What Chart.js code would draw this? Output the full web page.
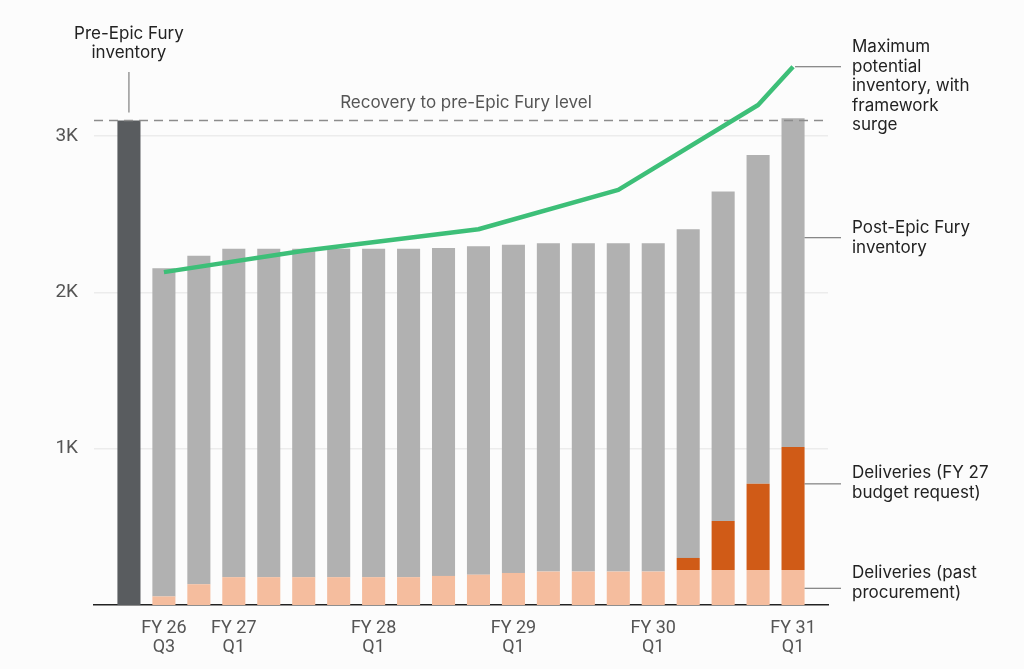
<!DOCTYPE html>
<html>
<head>
<meta charset="utf-8">
<script src="https://cdn.jsdelivr.net/npm/chart.js@4/dist/chart.umd.min.js"></script>
<style>
  body { margin: 0; background: #fcfcfc; }
  #wrap { width: 1024px; height: 669px; position: relative; }
</style>
</head>
<body>
<div id="wrap"><canvas id="inventoryChart"></canvas></div>
<script>
// quarters, first bar is the pre-Epic Fury stockpile
const categories = ["Pre-Epic Fury", "FY 26 Q3", "FY 26 Q4", "FY 27 Q1", "FY 27 Q2", "FY 27 Q3", "FY 27 Q4",
  "FY 28 Q1", "FY 28 Q2", "FY 28 Q3", "FY 28 Q4", "FY 29 Q1", "FY 29 Q2", "FY 29 Q3", "FY 29 Q4",
  "FY 30 Q1", "FY 30 Q2", "FY 30 Q3", "FY 30 Q4", "FY 31 Q1"];
const tickLabels = ["", ["FY 26", "Q3"], "", ["FY 27", "Q1"], "", "", "", ["FY 28", "Q1"], "", "", "",
  ["FY 29", "Q1"], "", "", "", ["FY 30", "Q1"], "", "", "", ["FY 31", "Q1"]];

const preEpicInventory = [3100, null, null, null, null, null, null, null, null, null, null, null, null, null, null, null, null, null, null, null];
const postEpicInventory = [null, 2155, 2235, 2280, 2280, 2280, 2280, 2280, 2280, 2285, 2295, 2305, 2315, 2315, 2315, 2315, 2405, 2645, 2880, 3115];
const pastDeliveries = [null, 55, 133, 178, 178, 178, 178, 178, 178, 186, 194, 205, 214, 214, 214, 214, 224, 224, 224, 224];
const budgetDeliveries = [null, null, null, null, null, null, null, null, null, null, null, null, null, null, null, null, 77, 314, 552, 787];
const maxPotential = [null, 2130, null, null, null, 2267, null, null, null, null, 2404, null, null, null, 2656, null, null, null, 3199, 3444];
const recoveryLevel = 3100;
const yTicks = [1000, 2000, 3000];

// one empty slot either side so the axis runs past the outer bars
const pad = arr => [null, ...arr, null];
const greyPart = postEpicInventory.map((v, i) => v == null ? null : v - (pastDeliveries[i] || 0) - (budgetDeliveries[i] || 0));

const FONT = "Inter, 'Noto Sans', sans-serif";

const notes = {
  id: "notes",
  beforeDatasetDraw(chart, args) {
    if (args.meta.type !== "line") return;
    const { ctx, chartArea: a, scales: { y } } = chart;
    const yy = y.getPixelForValue(recoveryLevel);
    ctx.save();
    ctx.strokeStyle = "#8c8c8c";
    ctx.lineWidth = 1.5;
    ctx.setLineDash([9, 6]);
    ctx.beginPath();
    ctx.moveTo(a.left, yy);
    ctx.lineTo(a.right - 4, yy);
    ctx.stroke();
    ctx.restore();
  },
  afterDraw(chart) {
    const { ctx, scales: { x, y } } = chart;
    const last = categories.length; // padded index of last bar
    const lastX = x.getPixelForValue(last);
    const barEdge = lastX + 11.5;

    ctx.save();
    ctx.strokeStyle = "#666";
    ctx.lineWidth = 1;
    const seg = (x1, y1, x2, y2) => { ctx.beginPath(); ctx.moveTo(x1, y1); ctx.lineTo(x2, y2); ctx.stroke(); };

    // pre-Epic Fury label
    const preX = x.getPixelForValue(1);
    seg(preX, 72, preX, y.getPixelForValue(preEpicInventory[0]) - 8);
    ctx.fillStyle = "#222";
    ctx.font = "17px " + FONT;
    ctx.textAlign = "center";
    ctx.textBaseline = "middle";
    ctx.fillText("Pre-Epic Fury", preX, 34);
    ctx.fillText("inventory", preX, 53);

    // recovery label
    ctx.fillStyle = "#555";
    ctx.fillText("Recovery to pre-Epic Fury level", 466, 103);

    // right-hand labels
    const tx = 852;
    const lineY = y.getPixelForValue(maxPotential[maxPotential.length - 1]);
    seg(lastX + 2, lineY, 841, lineY);
    const postY = y.getPixelForValue(2350);
    seg(barEdge, postY, 841, postY);
    const budY = y.getPixelForValue(775);
    seg(barEdge, budY, 841, budY);
    const pastY = y.getPixelForValue(107);
    seg(barEdge, pastY, 841, pastY);

    ctx.fillStyle = "#222";
    ctx.textAlign = "left";
    const block = (lines, y0) => lines.forEach((t, i) => ctx.fillText(t, tx, y0 + i * 19.5));
    block(["Maximum", "potential", "inventory, with", "framework", "surge"], 47);
    block(["Post-Epic Fury", "inventory"], 228);
    block(["Deliveries (FY 27", "budget request)"], 473);
    block(["Deliveries (past", "procurement)"], 573);
    ctx.restore();
  }
};

new Chart(document.getElementById("inventoryChart"), {
  type: "bar",
  data: {
    labels: pad(tickLabels),
    datasets: [
      { type: "line", label: "Maximum potential inventory, with framework surge", data: pad(maxPotential),
        borderColor: "#3dbf78", borderWidth: 4.5, pointRadius: 0, spanGaps: true, tension: 0,
        borderCapStyle: "butt", borderJoinStyle: "round", order: 0 },
      { label: "Pre-Epic Fury inventory", data: pad(preEpicInventory), backgroundColor: "#595c5f", stack: "inv", order: 1 },
      { label: "Deliveries (past procurement)", data: pad(pastDeliveries), backgroundColor: "#f5bd9e", stack: "inv", order: 1 },
      { label: "Deliveries (FY 27 budget request)", data: pad(budgetDeliveries), backgroundColor: "#d05b17", stack: "inv", order: 1 },
      { label: "Post-Epic Fury inventory", data: pad(greyPart), backgroundColor: "#b1b1b1", stack: "inv", order: 1 }
    ]
  },
  options: {
    responsive: true,
    maintainAspectRatio: false,
    animation: false,
    layout: { padding: { top: 58, right: 196, bottom: 0, left: 0 } },
    plugins: { legend: { display: false }, tooltip: { enabled: false } },
    datasets: { bar: { categoryPercentage: 1, barPercentage: 0.66 } },
    scales: {
      x: {
        offset: false,
        stacked: true,
        grid: { display: false },
        border: { display: true, color: "#222", width: 1.5 },
        ticks: { autoSkip: false, maxRotation: 0, padding: 6, color: "#555",
          font: { family: "Roboto, sans-serif", size: 18, lineHeight: 1.05 } },
        afterFit: s => { s.height = 64; }
      },
      y: {
        min: 0,
        max: 3500,
        stacked: true,
        border: { display: false },
        grid: { drawTicks: false, lineWidth: 1.5, color: "#ececec" },
        ticks: { padding: 16, color: "#555",
          font: { family: "Roboto, sans-serif", size: 19 },
          callback: v => (v / 1000) + "K" },
        afterBuildTicks: s => { s.ticks = yTicks.map(v => ({ value: v })); },
        afterFit: s => { s.width = 94; }
      }
    }
  },
  plugins: [notes]
});
</script>
</body>
</html>
